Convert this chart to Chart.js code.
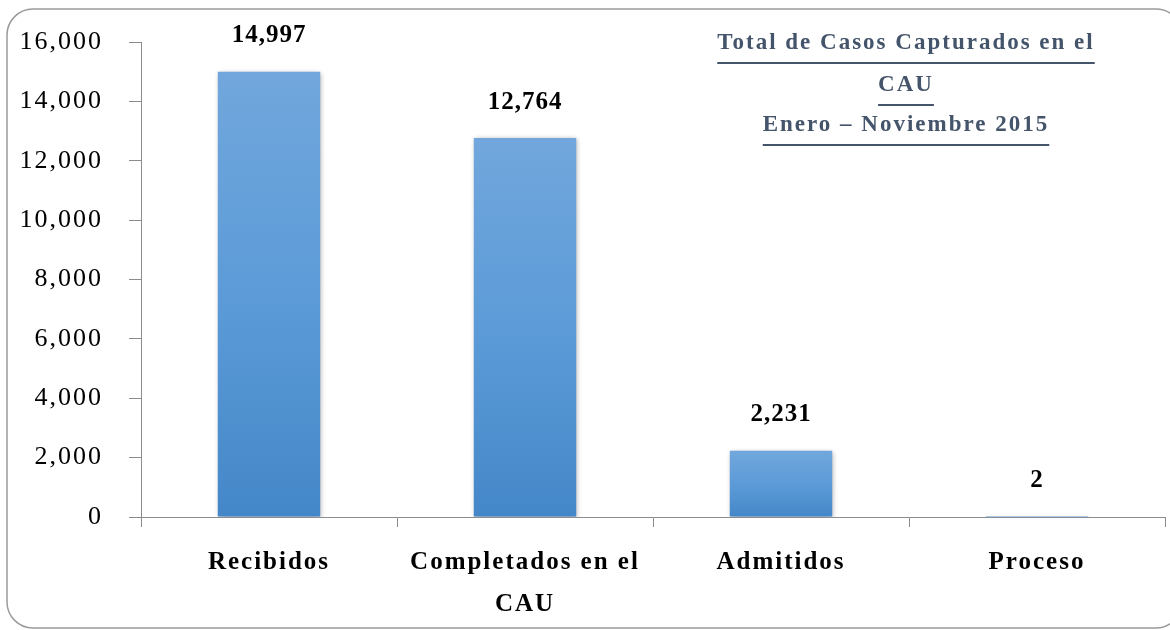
<!DOCTYPE html>
<html>
<head>
<meta charset="utf-8">
<script src="https://cdn.jsdelivr.net/npm/chart.js@4"></script>
<style>
  html, body { margin: 0; padding: 0; background: #fff; }
  #wrap { width: 1170px; height: 630px; position: relative; }
</style>
</head>
<body>
<div id="wrap"><canvas id="casosChart"></canvas></div>
<script>
// DATOS
const categorias = ['Recibidos', ['Completados en el', 'CAU'], 'Admitidos', 'Proceso'];
const casos = [14997, 12764, 2231, 2];
const ticksY = [0, 2000, 4000, 6000, 8000, 10000, 12000, 14000, 16000];
const titulo = ['Total de Casos Capturados en el', 'CAU', 'Enero \u2013 Noviembre 2015'];

const SERIF = '"Liberation Serif", "Times New Roman", serif';

// el Garamond original es mas ancho: espaciado entre letras
const espaciado = {
  id: 'espaciado',
  beforeUpdate(chart) { chart.ctx.letterSpacing = '2px'; },
  beforeDraw(chart) { chart.ctx.letterSpacing = '2px'; }
};

// marco redondeado
const marco = {
  id: 'marco',
  beforeDraw(chart) {
    const c = chart.ctx;
    c.save();
    c.strokeStyle = '#9b9b9b';
    c.lineWidth = 1.5;
    c.beginPath();
    c.roundRect(7, 9, 1175, 619, 26);
    c.stroke();
    c.restore();
  }
};

// sombra de las barras
const sombra = {
  id: 'sombra',
  beforeDatasetsDraw(chart) {
    const c = chart.ctx;
    c.save();
    c.shadowColor = 'rgba(0,0,0,0.35)';
    c.shadowBlur = 5;
    c.shadowOffsetX = 1;
    c.shadowOffsetY = 1;
  },
  afterDatasetsDraw(chart) {
    chart.ctx.restore();
  }
};

// etiquetas de valor
const valores = {
  id: 'valores',
  afterDatasetsDraw(chart) {
    const c = chart.ctx;
    const meta = chart.getDatasetMeta(0);
    c.save();
    c.letterSpacing = '1px';
    c.font = 'bold 25px ' + SERIF;
    c.fillStyle = '#000';
    c.textAlign = 'center';
    c.textBaseline = 'middle';
    meta.data.forEach((bar, i) => {
      c.fillText(casos[i].toLocaleString('en-US'), bar.x, bar.y - 36);
    });
    c.restore();
  }
};

// titulo subrayado
const tituloSub = {
  id: 'tituloSub',
  afterDraw(chart) {
    const c = chart.ctx;
    const cx = 906;
    const ys = [43, 85, 125];
    c.save();
    c.letterSpacing = '2px';
    c.font = 'bold 23px ' + SERIF;
    c.fillStyle = '#44546a';
    c.strokeStyle = '#44546a';
    c.lineWidth = 2;
    c.textAlign = 'center';
    c.textBaseline = 'middle';
    titulo.forEach((t, i) => {
      c.fillText(t, cx, ys[i]);
      const w = c.measureText(t).width;
      c.beginPath();
      c.moveTo(cx - w / 2, ys[i] + 20);
      c.lineTo(cx + w / 2, ys[i] + 20);
      c.stroke();
    });
    c.restore();
  }
};

new Chart(document.getElementById('casosChart'), {
  type: 'bar',
  data: {
    labels: categorias,
    datasets: [{
      data: casos,
      categoryPercentage: 1,
      barPercentage: 0.4,
      backgroundColor(ctx) {
        const chart = ctx.chart;
        const y = chart.scales && chart.scales.y;
        if (!y || ctx.raw === undefined) return '#5b9bd5';
        const top = y.getPixelForValue(ctx.raw);
        const bottom = y.getPixelForValue(0);
        if (!isFinite(top) || bottom - top < 1) return '#5b9bd5';
        const g = chart.ctx.createLinearGradient(0, top, 0, bottom);
        g.addColorStop(0, '#71a7dc');
        g.addColorStop(0.5, '#5c9bd8');
        g.addColorStop(1, '#4487c8');
        return g;
      }
    }]
  },
  options: {
    responsive: true,
    maintainAspectRatio: false,
    animation: false,
    layout: { padding: { top: 42, right: 5, left: 0, bottom: 0 } },
    plugins: {
      legend: { display: false },
      tooltip: { enabled: false }
    },
    scales: {
      x: {
        grid: { drawOnChartArea: false, tickLength: 10, color: '#8c8c8c', offset: true },
        border: { color: '#8c8c8c' },
        ticks: {
          color: '#000',
          font: { family: SERIF, size: 25, weight: 'bold', lineHeight: 1.7 },
          padding: 14,
          maxRotation: 0
        },
        afterFit(scale) { scale.height = 113; }
      },
      y: {
        min: 0,
        max: 16000,
        afterBuildTicks(scale) { scale.ticks = ticksY.map(v => ({ value: v })); },
        grid: { drawOnChartArea: false, tickLength: 12, color: '#8c8c8c' },
        border: { color: '#8c8c8c' },
        ticks: {
          color: '#000',
          font: { family: SERIF, size: 26 },
          padding: 26,
          callback: v => v.toLocaleString('en-US')
        },
        afterFit(scale) { scale.width = 141; }
      }
    }
  },
  plugins: [espaciado, marco, sombra, valores, tituloSub]
});
</script>
</body>
</html>
